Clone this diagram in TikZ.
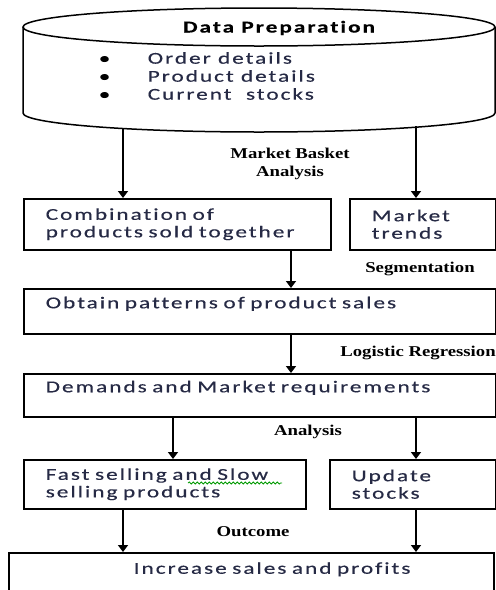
\documentclass[tikz,border=0pt]{standalone}
\usepackage{fontspec}
\setmainfont{Carlito}[FakeStretch=1.4, LetterSpace=12, Ligatures={NoCommon}, FakeBold=0.4]
\newfontfamily\tagfont{Liberation Serif}[FakeStretch=1.25]
\usepackage{tikz}
\usetikzlibrary{positioning}
\usetikzlibrary{arrows.meta,decorations.pathmorphing}
\definecolor{inktext}{HTML}{262A45}

\begin{document}
\begin{tikzpicture}[x=1pt, y=-1pt, line width=1.5pt,
    box/.style = {draw, rectangle, anchor=north west, inner xsep=22pt, inner ysep=0pt,
                  align=left, text=inktext, font=\fontsize{16.6}{17.5}\selectfont},
    tag/.style = {align=center, font=\tagfont\bfseries\fontsize{15}{18}\selectfont},
    arr/.style = {-{Triangle[width=10pt,length=7pt]}}]
            \useasboundingbox (0,0) rectangle (496,590);
            % Data store
            \draw (23,27) -- (23,113) arc[start angle=180, end angle=360, x radius=236, y radius=-19] -- (495,27);
            \draw (259,27) ellipse[x radius=236, y radius=19];
            \node[font=\fontsize{16.6}{17.5}\selectfont\bfseries] (prep) at (279,28) {Data Preparation};
            \node[anchor=west, align=left, text=inktext, inner sep=0pt, font=\fontsize{16.6}{18}\selectfont] (items) at (98,76)
                {\makebox[49pt][l]{\textcolor{black}{\textbullet}}Order details\\
                 \makebox[49pt][l]{\textcolor{black}{\textbullet}}Product details\\
                 \makebox[49pt][l]{\textcolor{black}{\textbullet}}Current\ \ stocks};
            \coordinate (cylL) at (123,129);
            \coordinate (cylR) at (416,126);
            % Columns of the arrows
            \coordinate (c1) at (123,0);
            \coordinate (c2) at (291,0);
            \coordinate (c3) at (173,0);
            \coordinate (c4) at (416,0);
            % Nodes
            \node[box, text width=263pt, minimum height=51pt] (combo) at (23,198) {Combination of\\products sold together};
            \node[box, text width=102pt, minimum height=51pt] (trends) at (349,198) {Market\\trends};
            \node[box, text width=428pt, minimum height=45pt] (patterns) at (23,288) {Obtain patterns of product sales\\\mbox{}};
            \node[box, text width=428pt, minimum height=43pt] (demand) at (23,373) {Demands and Market requirements\\\mbox{}};
            \node[box, text width=238pt, minimum height=49pt] (fastslow) at (23,459) {Fast selling and Slow\\selling products};
            \node[box, text width=122pt, minimum height=49pt] (update) at (329,459) {Update\\stocks};
            \node[box, text width=441pt, minimum height=48pt] (result) at (8,552) {\hspace*{103pt}Increase sales and profits\\\mbox{}};
            \draw[green!60!black, line width=0.8pt, decorate, decoration={snake, amplitude=1pt, segment length=4pt}] (188,483) -- (282,483);
            % Labels
            \node[tag] (mba) at (290,164) {Market Basket\\Analysis};
            \node[tag] (seg) at (420,269) {Segmentation};
            \node[tag] (logreg) at (418,353) {Logistic Regression};
            \node[tag] (ana) at (308,432) {Analysis};
            \node[tag] (outc) at (253,532) {Outcome};
            % Edges
            \draw[arr] (cylL) -- (combo.north -| cylL);
            \draw[arr] (cylR) -- (trends.north -| cylR);
            \draw[arr] (combo.south -| c2) -- (patterns.north -| c2);
            \draw[arr] (patterns.south -| c2) -- (demand.north -| c2);
            \draw[arr] (demand.south -| c3) -- (fastslow.north -| c3);
            \draw[arr] (demand.south -| c4) -- (update.north -| c4);
            \draw[arr] (fastslow.south -| c1) -- (result.north -| c1);
            \draw[arr] (update.south -| c4) -- (result.north -| c4);
\end{tikzpicture}
\end{document}
